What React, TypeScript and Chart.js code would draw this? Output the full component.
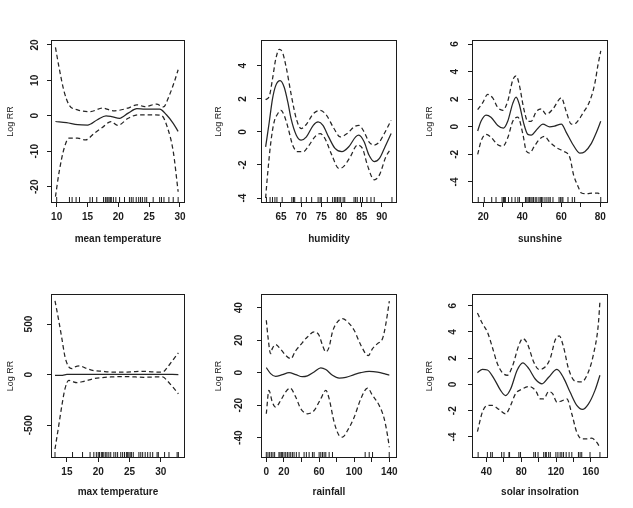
import React, { useEffect, useRef } from 'react';
import { Chart, registerables } from 'chart.js';

Chart.register(...registerables);
Chart.defaults.font.family = '"Liberation Sans", Arial, Helvetica, sans-serif';

const INK = '#1c1c1c';
const LINE = '#262626';

// ---------- Panel 1: mean temperature ----------
const meanTempFitX = [9.8, 11.6, 13.4, 15, 16.6, 18, 18.9, 20.2, 21.6, 23, 24.3, 26.7, 27.8, 28.9, 29.7];
const meanTempFitY = [-1.6, -1.9, -2.5, -2.6, -1.1, 0, -0.2, -0.7, 0.75, 2, 1.9, 1.9, 0.3, -2.1, -4.4];
const meanTempUpX = [9.8, 10.4, 11.2, 12, 13.4, 15.5, 17.4, 19.2, 21.6, 23, 24.3, 26.2, 27.3, 28.3, 29.1, 29.7];
const meanTempUpY = [19.3, 13.5, 6.9, 3.1, 1.7, 1.2, 2.2, 1.4, 2.2, 3.1, 2.6, 3.3, 2.5, 5.9, 9.7, 13];
const meanTempLoX = [9.8, 10.4, 11.2, 12, 13.4, 14.7, 16.1, 17.4, 18.8, 19.9, 21.6, 23.2, 25.4, 27, 28, 28.9, 29.7];
const meanTempLoY = [-22.8, -15.8, -9.2, -6.3, -6.3, -6.8, -4.9, -3.3, -1.6, -2.7, -0.7, 0.3, 0.3, 0.1, -3.5, -10, -21.4];
const meanTempRug = [10.0, 12.07, 12.5, 13.15, 13.7, 15.4, 15.8, 16.5, 17.6, 17.9, 18.15, 18.3, 18.5, 18.7, 18.86, 19.2, 19.6, 20.2, 21.0, 21.8, 22.1, 22.4, 22.9, 23.3, 23.6, 23.9, 24.3, 24.6, 25.65, 26.7, 27.0, 27.4, 28.2, 28.9, 29.7];
const meanTempXTicks = [10, 15, 20, 25, 30];
const meanTempXLabels = [10, 15, 20, 25, 30];
const meanTempYTicks = [-20, -10, 0, 10, 20];

// ---------- Panel 2: humidity ----------
const humFitX = [61.2, 62.1, 62.9, 63.7, 64.8, 65.8, 66.7, 67.5, 68.8, 70, 71.3, 73, 74.2, 75.4, 76.8, 78.4, 80.1, 81.8, 83.5, 84.3, 85.6, 86.8, 88.1, 89.4, 90.6, 92.3];
const humFitY = [-0.9, 0.6, 2.0, 2.8, 3.1, 2.7, 1.8, 0.8, -0.2, -0.5, -0.3, 0.4, 0.6, 0.4, -0.3, -1.0, -1.2, -0.9, -0.3, -0.2, -0.6, -1.4, -1.8, -1.6, -1.0, -0.1];
const humUpX = [61.2, 62.1, 62.9, 63.7, 64.6, 65.4, 66.3, 67.5, 68.8, 70, 71.3, 73, 74.7, 76.3, 78, 79.7, 81.4, 83.1, 84.3, 85.6, 86.8, 88.1, 89.4, 90.6, 92.3];
const humUpY = [1.95, 2.15, 3.2, 4.4, 5.0, 4.8, 3.9, 2.3, 0.8, 0.2, 0.46, 1.1, 1.3, 1.0, 0.26, -0.3, -0.1, 0.3, 0.4, 0.0, -0.6, -0.8, -0.6, -0.1, 0.7];
const humLoX = [61.2, 61.6, 62.5, 63.3, 64.2, 65, 65.8, 66.7, 67.9, 69.2, 70.5, 71.7, 73.4, 74.7, 75.9, 77.6, 79.3, 80.5, 82.2, 83.9, 85.2, 86.4, 88.1, 89.4, 91, 92.3];
const humLoY = [-4, -2.8, -0.6, 0.6, 1.1, 1.3, 1.0, 0.3, -0.8, -1.2, -1.2, -0.9, -0.3, -0.1, -0.4, -1.4, -2.2, -2.1, -1.5, -0.8, -1.0, -2.0, -2.9, -2.6, -1.5, -1.0];
const humRug = [61.4, 62.3, 62.9, 63.5, 64.0, 65.3, 67.7, 68.1, 68.4, 70.0, 71.3, 72.6, 74.2, 74.7, 75.0, 76.5, 77.8, 78.3, 78.6, 79.0, 79.4, 79.8, 80.4, 80.8, 83.1, 83.5, 83.9, 84.7, 85.2, 86.3, 87.3, 88.1, 92.5];
const humXTicks = [65, 70, 75, 80, 85, 90];
const humXLabels = [65, 70, 75, 80, 85, 90];
const humYTicks = [-4, -2, 0, 2, 4];

// ---------- Panel 3: sunshine ----------
const sunFitX = [17.1, 18.8, 21.4, 23.9, 27.4, 30.3, 32.5, 35.1, 36.8, 38.5, 40.6, 42.8, 44.5, 48, 50.5, 54, 56.5, 60, 62.5, 66, 69.4, 72, 75.4, 78, 80.2];
const sunFitY = [-0.3, 0.4, 0.85, 0.7, 0.1, -0.1, 0.4, 1.7, 2.15, 1.6, 0.3, -0.55, -0.6, -0.1, 0.2, 0, 0.05, 0.2, -0.4, -1.3, -1.9, -1.8, -1.2, -0.4, 0.4];
const sunUpX = [17.1, 19.7, 22.2, 24.8, 27.4, 30, 32.5, 35.1, 36.8, 38.5, 40.6, 42.8, 44.5, 47.1, 49.7, 52.2, 55.7, 60, 62.5, 65.1, 67.7, 71.1, 74.5, 77.1, 78.8, 80.2];
const sunUpY = [1.25, 1.75, 2.35, 2.1, 1.4, 1.2, 1.85, 3.4, 3.7, 3.0, 1.4, 0.4, 0.4, 1.1, 1.3, 0.9, 1.3, 2.1, 1.1, 0.2, 0.3, 1.0, 1.85, 3.1, 4.5, 5.5];
const sunLoX = [17.1, 18.8, 21.4, 23.9, 27.4, 30, 32.5, 35.1, 37.7, 40.3, 42, 43.7, 46.2, 48.8, 51.4, 54, 57.4, 60.8, 64.3, 66.3, 68.5, 70.3, 72.8, 76.3, 78.8, 80.2];
const sunLoY = [-2.0, -1.05, -0.55, -0.75, -1.3, -1.4, -0.8, 0.4, 0.7, -0.55, -1.75, -1.9, -1.4, -0.9, -0.7, -1.1, -1.5, -1.75, -2.2, -3.5, -4.3, -4.8, -4.85, -4.8, -4.8, -5.0];
const sunRug = [17.4, 20.5, 24.3, 26.5, 29.6, 30.3, 30.8, 31.3, 32.9, 34.6, 36.3, 37.7, 38.5, 41.6, 42.3, 43.0, 43.7, 44.4, 45.0, 45.7, 46.6, 47.4, 48.5, 49.2, 49.8, 50.5, 51.6, 52.6, 53.6, 54.3, 55.7, 58.8, 59.5, 60.3, 60.8, 63.4, 65.6, 66.8, 80.2];
const sunXTicks = [20, 30, 40, 50, 60, 70, 80];
const sunXLabels = [20, 40, 60, 80];
const sunYTicks = [-4, -2, 0, 2, 4, 6];

// ---------- Panel 4: max temperature ----------
const maxTempFitX = [13.1, 14.3, 15, 17, 20, 25, 30, 32.8];
const maxTempFitY = [-8, -7, 2, 3, 2, 2, 2, 1];
const maxTempUpX = [13.1, 13.7, 14.2, 14.7, 15.3, 15.8, 16.3, 17.1, 17.9, 19.3, 20.6, 22, 24.6, 27.3, 28.9, 30.3, 31.1, 31.9, 32.8];
const maxTempUpY = [730, 533, 356, 175, 76, 59, 76, 86, 66, 40, 33, 26, 26, 33, 26, 26, 76, 142, 215];
const maxTempLoX = [13.1, 13.7, 14.2, 14.7, 15.3, 15.8, 16.6, 17.7, 19.3, 20.6, 22, 24.6, 27.3, 29.5, 30.3, 31.1, 31.9, 32.8];
const maxTempLoY = [-735, -502, -304, -139, -56, -66, -79, -66, -40, -30, -23, -20, -26, -23, -23, -66, -122, -190];
const maxTempRug = [13.1, 15.9, 17.5, 18.7, 19.3, 19.7, 20.0, 20.2, 20.5, 20.7, 20.9, 21.2, 21.4, 21.7, 22.0, 22.5, 22.8, 23.1, 23.6, 23.9, 24.2, 24.5, 24.7, 24.9, 25.1, 25.3, 25.6, 26.5, 26.8, 27.1, 27.5, 27.9, 28.3, 28.7, 29.4, 29.6, 30.6, 31.3, 32.6, 32.8];
const maxTempXTicks = [15, 20, 25, 30];
const maxTempXLabels = [15, 20, 25, 30];
const maxTempYTicks = [-500, 0, 500];

// ---------- Panel 5: rainfall ----------
const rainFitX = [0, 4.9, 10.6, 18.3, 25.9, 33.5, 41, 46.8, 54.4, 62, 67.7, 75.3, 82.9, 90.5, 100, 107.6, 117, 126.6, 134.2, 140];
const rainFitY = [3.1, -0.6, -2.3, -1.2, 0, -1.2, -2.5, -2, 0.4, 2.9, 1.9, -1.6, -3.3, -2.9, -1.2, 0, 0.8, 0.4, -0.6, -1.6];
const rainUpX = [0, 1.9, 4.9, 6.8, 10.6, 16.3, 22, 28, 33, 39.2, 46.8, 54.4, 60, 63.9, 67.7, 71.5, 75.3, 81, 86.7, 92.4, 100, 107.6, 116, 120.9, 126.6, 132.3, 136.1, 140];
const rainUpY = [32.3, 22, 11.7, 14.8, 17.3, 14.4, 10.7, 8.6, 13.2, 17.3, 22, 25.1, 23, 16.9, 12.8, 15.8, 25.1, 31.3, 33.3, 31.3, 26.1, 16.9, 10.5, 14.8, 17.9, 21, 30.2, 44];
const rainLoX = [0, 3, 6.8, 10.6, 16.3, 22, 27, 33.5, 39.2, 46.8, 54.4, 62, 67.7, 71.5, 77.2, 82.9, 86.7, 92.4, 100, 107.6, 115.2, 120.9, 128.5, 134.2, 138, 140];
const rainLoY = [-25.3, -10.9, -18.1, -21.2, -17.1, -11.9, -9.5, -15, -22.2, -25.3, -23.3, -16, -10.9, -16, -30.5, -38.7, -39.7, -35.6, -27.4, -16, -9.5, -14, -20.2, -28.4, -38.7, -45.9];
const rainRug = [0, 1.9, 3.8, 5.7, 7.6, 9.5, 14.4, 15.6, 17.1, 18.3, 20.2, 22.1, 24, 25.9, 27.8, 29.7, 31.6, 34.2, 37.3, 43, 45.6, 48.7, 52.5, 54.4, 60.1, 62, 63.9, 65.8, 67.7, 71.5, 75.3, 112.5, 117.1, 120.9, 139.9];
const rainXTicks = [0, 20, 40, 60, 80, 100, 120, 140];
const rainXLabels = [0, 20, 60, 100, 140];
const rainYTicks = [-40, -20, 0, 20, 40];

// ---------- Panel 6: solar insolration ----------
const solFitX = [29.7, 35.4, 41.1, 48.7, 56.3, 62, 67.8, 75.4, 81.8, 88.7, 96.3, 103.9, 111.5, 121, 128.6, 136.2, 143.8, 150.3, 157.1, 164.7, 170.4];
const solFitY = [0.9, 1.15, 1.1, 0.45, -0.45, -0.85, -0.35, 1.1, 1.65, 1.2, 0.4, 0.05, 0.55, 1.15, 0.5, -0.6, -1.6, -1.9, -1.5, -0.45, 0.7];
const solUpX = [29.7, 35.4, 41.1, 46.8, 52.5, 58.3, 64, 69.7, 77.3, 81.8, 86.8, 94.4, 100.1, 107.7, 113.4, 119.1, 123.7, 128.6, 134.3, 141.9, 149.5, 157.1, 162.8, 168.5, 170.4];
const solUpY = [5.45, 4.65, 4.0, 2.85, 1.6, 0.9, 0.7, 1.35, 3.0, 3.5, 3.15, 1.7, 1.15, 1.35, 2.0, 3.4, 3.7, 2.85, 1.2, 0.25, 0.2, 0.95, 2.25, 4.55, 6.35];
const solLoX = [29.7, 35.4, 41.1, 46.8, 54.4, 62, 67.8, 73.5, 81.1, 88.7, 96.3, 102, 105.8, 111.5, 116, 121, 126.6, 132.4, 138.1, 143.8, 149.5, 155.2, 160.9, 166.6, 170.4];
const solLoY = [-3.6, -2.1, -1.6, -1.6, -1.9, -2.25, -1.6, -0.7, -0.35, -0.15, -0.45, -1.1, -1.1, -0.55, -0.7, -1.35, -1.25, -1.1, -2.25, -3.65, -4.15, -4.15, -4.1, -4.4, -4.8];
const solRug = [30.5, 41.1, 44.9, 46.8, 57.5, 60.2, 65.9, 66.6, 77.3, 79.2, 94.4, 96.3, 99.3, 105.8, 107.7, 108.8, 111.5, 113.4, 119.8, 122.1, 124.7, 126.6, 128.6, 131.6, 135.0, 138.1, 145.7, 147.6, 149.5, 159, 170.4];
const solXTicks = [40, 60, 80, 100, 120, 140, 160];
const solXLabels = [40, 80, 120, 160];
const solYTicks = [-4, -2, 0, 2, 4, 6];

const yTitle = 'Log RR';

type PanelSpec = {
  xTitle: string;
  fit: [number[], number[]];
  up: [number[], number[]];
  lo: [number[], number[]];
  rug: number[];
  xTicks: number[];
  xLabels: number[];
  yTicks: number[];
  xRange: [number, number];
  yRange: [number, number];
  // layout (pixels)
  left: number; top: number; w: number; h: number;
  L: number; T: number; R: number; B: number;
  yLabOff: number; yTitlePad: number; xTitlePad: number;
};

const panels: PanelSpec[] = [
  {
    xTitle: 'mean temperature', fit: [meanTempFitX, meanTempFitY], up: [meanTempUpX, meanTempUpY], lo: [meanTempLoX, meanTempLoY],
    rug: meanTempRug, xTicks: meanTempXTicks, xLabels: meanTempXLabels, yTicks: meanTempYTicks,
    xRange: [9.24, 30.65], yRange: [-24.3, 21.1],
    left: 0, top: 0, w: 210, h: 254, L: 52, T: 41, R: 26, B: 52, yLabOff: 17, yTitlePad: 5.3, xTitlePad: 8.7,
  },
  {
    xTitle: 'humidity', fit: [humFitX, humFitY], up: [humUpX, humUpY], lo: [humLoX, humLoY],
    rug: humRug, xTicks: humXTicks, xLabels: humXLabels, yTicks: humYTicks,
    xRange: [60.3, 93.5], yRange: [-4.24, 5.5],
    left: 210, top: 0, w: 210, h: 254, L: 52, T: 41, R: 24, B: 52, yLabOff: 18.5, yTitlePad: 3.1, xTitlePad: 8.7,
  },
  {
    xTitle: 'sunshine', fit: [sunFitX, sunFitY], up: [sunUpX, sunUpY], lo: [sunLoX, sunLoY],
    rug: sunRug, xTicks: sunXTicks, xLabels: sunXLabels, yTicks: sunYTicks,
    xRange: [14.7, 83.4], yRange: [-5.45, 6.22],
    left: 420, top: 0, w: 213, h: 254, L: 53, T: 41, R: 26, B: 52, yLabOff: 17.8, yTitlePad: 4.6, xTitlePad: 8.7,
  },
  {
    xTitle: 'max temperature', fit: [maxTempFitX, maxTempFitY], up: [maxTempUpX, maxTempUpY], lo: [maxTempLoX, maxTempLoY],
    rug: maxTempRug, xTicks: maxTempXTicks, xLabels: maxTempXLabels, yTicks: maxTempYTicks,
    xRange: [12.62, 33.7], yRange: [-814, 787],
    left: 0, top: 254, w: 210, h: 254, L: 52, T: 41, R: 26, B: 51, yLabOff: 23.2, yTitlePad: 5.3, xTitlePad: 9.7,
  },
  {
    xTitle: 'rainfall', fit: [rainFitX, rainFitY], up: [rainUpX, rainUpY], lo: [rainLoX, rainLoY],
    rug: rainRug, xTicks: rainXTicks, xLabels: rainXLabels, yTicks: rainYTicks,
    xRange: [-4.9, 147.6], yRange: [-51.9, 47.8],
    left: 210, top: 254, w: 210, h: 254, L: 52, T: 41, R: 24, B: 51, yLabOff: 23.1, yTitlePad: 2.9, xTitlePad: 9.7,
  },
  {
    xTitle: 'solar insolration', fit: [solFitX, solFitY], up: [solUpX, solUpY], lo: [solLoX, solLoY],
    rug: solRug, xTicks: solXTicks, xLabels: solXLabels, yTicks: solYTicks,
    xRange: [24.6, 178.5], yRange: [-5.53, 6.82],
    left: 420, top: 254, w: 213, h: 254, L: 53, T: 41, R: 26, B: 51, yLabOff: 19.6, yTitlePad: 4.3, xTitlePad: 9.7,
  },
];

const pts = (xs: number[], ys: number[]) => xs.map((x, i) => ({ x, y: ys[i] }));

function Panel({ p }: { p: PanelSpec }) {
  const ref = useRef<HTMLCanvasElement>(null);
  useEffect(() => {
    const canvas = ref.current;
    if (!canvas) return;
    const rPlugin = {
      id: 'rstyle',
      afterDraw(chart: any) {
        const { ctx, chartArea } = chart;
        const a = chartArea;
        ctx.save();
        ctx.strokeStyle = INK;
        ctx.lineWidth = 1;
        ctx.strokeRect(Math.round(a.left) - 0.5, Math.round(a.top) - 0.5, Math.round(a.right - a.left) + 1, Math.round(a.bottom - a.top) + 1);
        const ys = chart.scales.y;
        ctx.fillStyle = INK;
        ctx.font = 'bold 10px "Liberation Sans", Arial, sans-serif';
        ctx.textAlign = 'center';
        ctx.textBaseline = 'middle';
        for (const t of ys.ticks) {
          const py = ys.getPixelForValue(t.value);
          ctx.save();
          ctx.translate(a.left - p.yLabOff, py);
          ctx.rotate(-Math.PI / 2);
          ctx.fillText(String(t.value), 0, 0);
          ctx.restore();
        }
        ctx.restore();
      },
    };
    const lineDs = (data: any[], dash: number[]) => ({
      type: 'line' as const,
      data,
      borderColor: LINE,
      borderWidth: 1.25,
      borderDash: dash,
      pointRadius: 0,
      fill: false,
      cubicInterpolationMode: 'monotone' as const,
    });
    const chart = new Chart(canvas, {
      type: 'line',
      data: {
        datasets: [
          lineDs(pts(p.fit[0], p.fit[1]), []),
          lineDs(pts(p.up[0], p.up[1]), [4.5, 3]),
          lineDs(pts(p.lo[0], p.lo[1]), [4.5, 3]),
          {
            type: 'line',
            data: p.rug.map((x) => ({ x, y: p.yRange[0] })),
            showLine: false,
            pointStyle: 'line',
            pointRotation: 90,
            pointRadius: 5,
            pointBorderWidth: 1,
            pointBorderColor: INK,
            pointBackgroundColor: INK,
            clip: { left: 4, right: 4, top: 0, bottom: 0 },
          } as any,
        ],
      },
      options: {
        responsive: false,
        maintainAspectRatio: false,
        animation: false,
        events: [],
        layout: { padding: { top: p.T, right: p.R, bottom: 0, left: 0 } },
        plugins: { legend: { display: false }, tooltip: { enabled: false } },
        scales: {
          x: {
            type: 'linear',
            min: p.xRange[0],
            max: p.xRange[1],
            bounds: 'data',
            afterBuildTicks: (s: any) => { s.ticks = p.xTicks.map((v) => ({ value: v })); },
            afterFit: (s: any) => { s.height = p.B; s.paddingLeft = 0; s.paddingRight = 0; },
            grid: { display: true, drawOnChartArea: false, drawTicks: true, tickLength: 5, color: INK, lineWidth: 1 },
            border: { display: false },
            ticks: {
              autoSkip: false, maxRotation: 0, minRotation: 0, padding: 4.5, color: INK,
              font: { size: 10, weight: 'bold' },
              callback: (v: any) => (p.xLabels.includes(Number(v)) ? String(v) : ''),
            },
            title: { display: true, text: p.xTitle, color: INK, font: { size: 10, weight: 'bold' }, padding: { top: 0, bottom: p.xTitlePad } },
          },
          y: {
            type: 'linear',
            min: p.yRange[0],
            max: p.yRange[1],
            bounds: 'data',
            afterBuildTicks: (s: any) => { s.ticks = p.yTicks.map((v) => ({ value: v })); },
            afterFit: (s: any) => { s.width = p.L; s.paddingTop = 0; s.paddingBottom = 0; },
            grid: { display: true, drawOnChartArea: false, drawTicks: true, tickLength: 5, color: INK, lineWidth: 1 },
            border: { display: false },
            ticks: { display: false },
            title: { display: true, text: yTitle, color: INK, font: { size: 9 }, padding: { top: p.yTitlePad, bottom: 0 } },
          },
        },
      } as any,
      plugins: [rPlugin],
    });
    return () => chart.destroy();
  }, []);
  return (
    <canvas
      ref={ref}
      width={p.w}
      height={p.h}
      style={{ position: 'absolute', left: p.left, top: p.top, width: p.w, height: p.h }}
    />
  );
}

export default function App() {
  return (
    <div style={{ position: 'absolute', left: 0, top: 0, width: 633, height: 508, background: '#fff', overflow: 'hidden' }}>
      {panels.map((p, i) => (
        <Panel key={i} p={p} />
      ))}
    </div>
  );
}
